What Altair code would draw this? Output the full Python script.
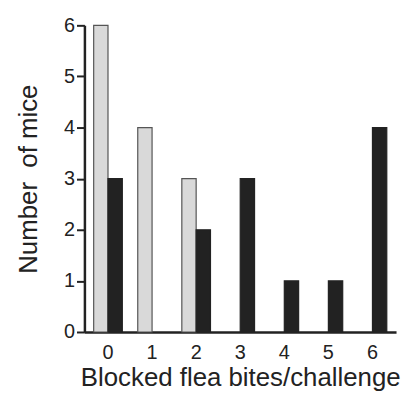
import altair as alt
import pandas as pd

categories = ["0", "1", "2", "3", "4", "5", "6"]
series_names = ["Group 1", "Group 2"]
gray_values = [6, 4, 3, 0, 0, 0, 0]
black_values = [3, 0, 2, 3, 1, 1, 4]
y_ticks = [0, 1, 2, 3, 4, 5, 6]

rows = []
for c, g, b in zip(categories, gray_values, black_values):
    rows.append({"cat": c, "series": series_names[0], "v": g})
    rows.append({"cat": c, "series": series_names[1], "v": b})
df = pd.DataFrame(rows)

FONT = "Liberation Sans"

chart = (
    alt.Chart(df)
    .transform_filter("datum.v > 0")
    .mark_bar(strokeWidth=1.2)
    .encode(
        x=alt.X(
            "cat:N",
            sort=categories,
            scale=alt.Scale(domain=categories, paddingInner=0.35, paddingOuter=0.21),
            axis=alt.Axis(
                title="Blocked flea bites/challenge",
                labelAngle=0,
                ticks=False,
                labelPadding=11,
                labelFontSize=20,
                titleFontSize=26,
                titleFontWeight="normal",
                titlePadding=2,
                domainWidth=2.5,
                domainColor="#222",
                labelColor="#222",
                titleColor="#222",
                labelFont=FONT,
                titleFont=FONT,
            ),
        ),
        xOffset=alt.XOffset(
            "series:N",
            sort=series_names,
            scale=alt.Scale(domain=series_names, paddingInner=0, paddingOuter=0),
        ),
        y=alt.Y(
            "v:Q",
            scale=alt.Scale(domain=[0, 6], nice=False),
            axis=alt.Axis(
                title="Number\u00a0\u00a0of mice",
                values=y_ticks,
                grid=False,
                tickSize=8,
                tickWidth=2,
                tickColor="#222",
                domainWidth=2.5,
                domainColor="#222",
                labelPadding=2,
                labelFontSize=20,
                titleFontSize=26,
                titleFontWeight="normal",
                titlePadding=22,
                labelColor="#222",
                titleColor="#222",
                labelFont=FONT,
                titleFont=FONT,
            ),
        ),
        color=alt.Color(
            "series:N",
            scale=alt.Scale(domain=series_names, range=["#d9d9d9", "#222222"]),
            legend=None,
        ),
        stroke=alt.Stroke(
            "series:N",
            scale=alt.Scale(domain=series_names, range=["#555555", "#222222"]),
            legend=None,
        ),
    )
    .properties(width=314, height=309, padding={"left": 7, "top": 6, "right": 0, "bottom": 0})
    .configure_view(stroke=None)
)

chart.save("out.html", embed_options={"renderer": "svg", "actions": False})
